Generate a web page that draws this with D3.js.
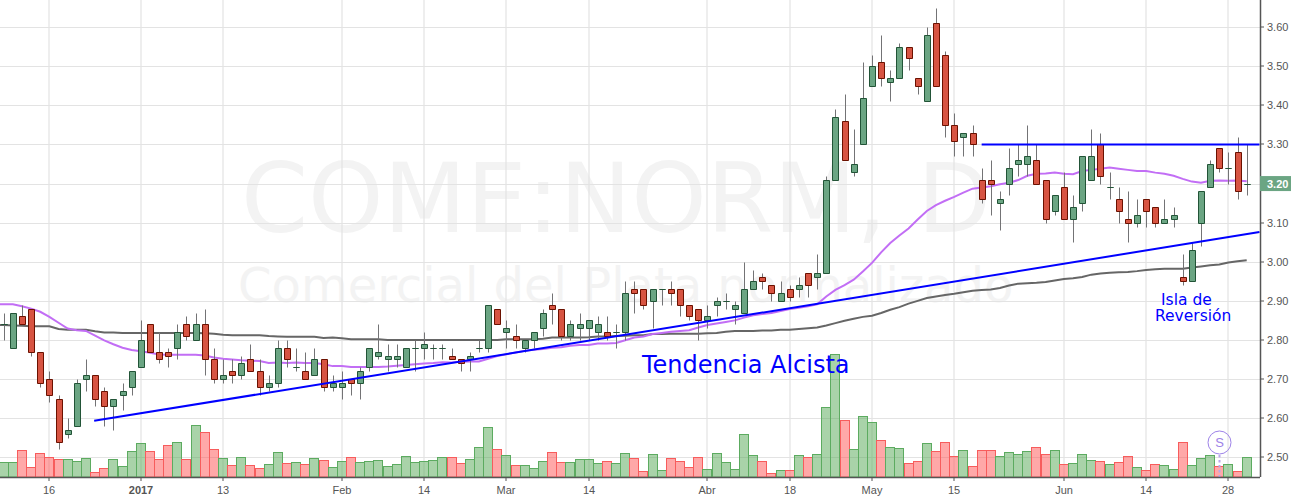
<!DOCTYPE html>
<html><head><meta charset="utf-8">
<script src="https://cdn.jsdelivr.net/npm/d3@7/dist/d3.min.js"></script>
<style>html,body{margin:0;padding:0;background:#fff;overflow:hidden}svg{display:block}</style>
</head><body><svg id="c" width="1291" height="497"></svg>
<script>
const open=[2.84,2.78,2.86,2.88,2.77,2.70,2.65,2.56,2.58,2.70,2.71,2.67,2.63,2.66,2.68,2.73,2.84,2.77,2.77,2.78,2.84,2.80,2.84,2.75,2.70,2.72,2.71,2.75,2.72,2.68,2.69,2.78,2.73,2.72,2.71,2.75,2.68,2.68,2.70,2.69,2.73,2.76,2.75,2.75,2.73,2.78,2.78,2.78,2.78,2.76,2.75,2.75,2.78,2.78,2.88,2.82,2.81,2.78,2.80,2.83,2.89,2.88,2.81,2.83,2.83,2.82,2.82,2.82,2.82,2.93,2.93,2.90,2.93,2.93,2.93,2.89,2.88,2.85,2.89,2.90,2.88,2.87,2.93,2.96,2.94,2.90,2.93,2.93,2.97,2.96,2.97,3.21,3.36,3.23,3.30,3.45,3.51,3.46,3.47,3.55,3.47,3.41,3.61,3.53,3.35,3.32,3.33,3.21,3.21,3.15,3.20,3.25,3.25,3.26,3.21,3.13,3.19,3.11,3.15,3.21,3.30,3.19,3.16,3.11,3.10,3.16,3.14,3.10,3.11,2.96,2.95,3.10,3.19,3.29,3.24,3.28,3.20];
const high=[2.87,2.87,2.89,2.88,2.77,2.72,2.66,2.60,2.70,2.75,2.71,2.68,2.65,2.69,2.72,2.85,2.84,2.82,2.78,2.84,2.86,2.87,2.88,2.78,2.75,2.75,2.76,2.79,2.75,2.71,2.80,2.80,2.78,2.77,2.78,2.75,2.71,2.72,2.70,2.73,2.78,2.84,2.79,2.79,2.78,2.80,2.82,2.79,2.79,2.78,2.75,2.77,2.80,2.89,2.88,2.85,2.84,2.80,2.82,2.88,2.92,2.88,2.85,2.87,2.85,2.86,2.86,2.84,2.95,2.95,2.93,2.93,2.93,2.95,2.93,2.89,2.88,2.89,2.91,2.92,2.90,3.00,2.98,2.97,2.94,2.95,2.94,2.96,2.97,3.02,3.22,3.39,3.43,3.34,3.51,3.53,3.58,3.49,3.56,3.55,3.47,3.60,3.65,3.54,3.38,3.33,3.35,3.24,3.26,3.18,3.29,3.30,3.35,3.30,3.21,3.17,3.23,3.17,3.27,3.34,3.33,3.23,3.19,3.18,3.16,3.16,3.14,3.16,3.14,3.02,3.05,3.18,3.26,3.29,3.28,3.32,3.30];
const low=[2.80,2.78,2.84,2.76,2.68,2.64,2.52,2.55,2.58,2.67,2.63,2.58,2.57,2.62,2.66,2.73,2.77,2.74,2.73,2.75,2.80,2.80,2.71,2.69,2.69,2.69,2.70,2.72,2.66,2.67,2.68,2.73,2.72,2.70,2.71,2.67,2.67,2.65,2.66,2.65,2.72,2.75,2.72,2.73,2.73,2.72,2.75,2.75,2.75,2.75,2.72,2.72,2.77,2.77,2.84,2.78,2.78,2.77,2.78,2.81,2.84,2.80,2.80,2.80,2.80,2.80,2.80,2.78,2.80,2.87,2.88,2.83,2.89,2.89,2.86,2.85,2.80,2.83,2.86,2.88,2.84,2.87,2.93,2.93,2.90,2.90,2.90,2.91,2.91,2.93,2.97,3.21,3.26,3.22,3.30,3.45,3.45,3.41,3.47,3.49,3.43,3.41,3.45,3.32,3.27,3.27,3.27,3.15,3.12,3.08,3.17,3.22,3.22,3.20,3.10,3.12,3.11,3.05,3.13,3.21,3.20,3.16,3.10,3.05,3.09,3.09,3.09,3.10,3.09,2.94,2.95,3.04,3.19,3.23,3.20,3.16,3.17];
const close=[2.84,2.87,2.84,2.77,2.69,2.66,2.54,2.57,2.69,2.71,2.65,2.63,2.65,2.67,2.72,2.80,2.77,2.75,2.76,2.82,2.81,2.84,2.75,2.70,2.71,2.71,2.74,2.72,2.68,2.69,2.78,2.75,2.73,2.70,2.75,2.68,2.69,2.69,2.69,2.72,2.78,2.77,2.76,2.76,2.78,2.78,2.79,2.78,2.78,2.75,2.74,2.76,2.78,2.89,2.84,2.83,2.80,2.80,2.82,2.87,2.88,2.81,2.84,2.84,2.85,2.84,2.81,2.82,2.92,2.92,2.89,2.93,2.93,2.92,2.89,2.86,2.85,2.86,2.90,2.90,2.89,2.93,2.95,2.95,2.92,2.92,2.91,2.94,2.94,2.97,3.21,3.37,3.26,3.25,3.42,3.50,3.47,3.47,3.55,3.52,3.45,3.58,3.45,3.35,3.31,3.33,3.30,3.16,3.20,3.16,3.24,3.26,3.27,3.20,3.11,3.17,3.11,3.14,3.27,3.27,3.22,3.19,3.13,3.10,3.12,3.13,3.10,3.11,3.12,2.95,3.03,3.18,3.25,3.24,3.24,3.18,3.20];
const volume=[45,45,81,30,72,60,54,54,48,57,15,27,54,33,78,102,78,54,96,105,54,156,135,84,57,36,60,36,27,39,75,42,45,39,57,51,30,48,60,45,48,51,33,39,63,45,48,51,60,60,42,54,90,150,84,66,36,36,27,48,75,45,45,54,54,42,48,42,72,57,18,69,21,57,48,30,60,24,72,45,24,129,66,48,12,21,21,66,60,69,210,369,172,84,182,165,111,90,87,42,48,102,78,105,63,81,33,81,81,63,75,69,78,90,69,81,39,42,69,51,48,39,45,63,30,21,39,36,24,105,36,57,66,33,39,18,60];
// moving averages: first value belongs to the bar just before the window
const maFast=[2.891,2.891,2.891,2.886,2.880,2.872,2.859,2.844,2.829,2.825,2.823,2.811,2.799,2.789,2.780,2.774,2.771,2.767,2.763,2.762,2.762,2.762,2.762,2.760,2.755,2.752,2.750,2.748,2.747,2.746,2.741,2.742,2.741,2.742,2.741,2.741,2.738,2.733,2.733,2.731,2.731,2.731,2.731,2.732,2.734,2.736,2.738,2.740,2.741,2.743,2.742,2.744,2.745,2.745,2.752,2.759,2.763,2.768,2.772,2.775,2.777,2.780,2.781,2.785,2.787,2.787,2.791,2.791,2.792,2.799,2.806,2.809,2.815,2.818,2.821,2.823,2.825,2.832,2.838,2.842,2.846,2.850,2.857,2.863,2.866,2.869,2.874,2.879,2.882,2.886,2.891,2.911,2.928,2.940,2.954,2.975,2.997,3.024,3.048,3.067,3.085,3.108,3.130,3.145,3.156,3.166,3.177,3.187,3.190,3.193,3.198,3.202,3.209,3.220,3.225,3.226,3.228,3.225,3.224,3.232,3.235,3.238,3.241,3.238,3.235,3.232,3.232,3.228,3.225,3.220,3.212,3.205,3.202,3.207,3.208,3.207,3.208,3.206];
const maSlow=[2.838,2.838,2.837,2.836,2.835,2.835,2.835,2.828,2.826,2.826,2.826,2.822,2.819,2.819,2.818,2.818,2.818,2.818,2.818,2.818,2.818,2.818,2.818,2.817,2.816,2.813,2.812,2.812,2.812,2.812,2.810,2.809,2.808,2.808,2.808,2.808,2.805,2.806,2.804,2.802,2.802,2.802,2.802,2.800,2.800,2.800,2.800,2.800,2.800,2.800,2.800,2.800,2.800,2.800,2.800,2.800,2.802,2.802,2.802,2.802,2.803,2.806,2.806,2.806,2.806,2.807,2.809,2.809,2.810,2.811,2.812,2.812,2.815,2.815,2.816,2.816,2.816,2.816,2.817,2.818,2.821,2.823,2.823,2.823,2.824,2.824,2.826,2.826,2.828,2.830,2.832,2.837,2.843,2.849,2.854,2.859,2.862,2.869,2.877,2.884,2.893,2.900,2.907,2.911,2.915,2.918,2.922,2.926,2.928,2.929,2.933,2.939,2.944,2.945,2.946,2.948,2.952,2.956,2.958,2.961,2.967,2.970,2.972,2.973,2.974,2.976,2.979,2.981,2.982,2.982,2.982,2.985,2.988,2.991,2.993,2.998,3.001,3.004];
const priceTicks=[3.6,3.5,3.4,3.3,3.2,3.1,3.0,2.9,2.8,2.7,2.6,2.5];
const timeTickIdx=[5,15,24,37,46,55,64,77,86,95,104,116,125,134];
const timeTickLabels=["16","2017","13","Feb","14","Mar","14","Abr","18","May","15","Jun","14","28"];
const lastPrice=3.20;
const trendUp=[[9.9,2.593],[137.4,3.076]];
const resistance=[[107,3.30],[137.4,3.30]];
const markerIdx=133;

const W=1260,H=477;
const x=d3.scaleLinear().domain([0,136]).range([3.7,1246.7]);
const y=d3.scaleLinear().domain([3.6,2.5]).range([27.2,457.2]);
const v=d3.scaleLinear().domain([0,369]).range([477,354]);
const cx=i=>Math.round(x(i))+0.5, cy=p=>Math.round(y(p))+0.5;
const svg=d3.select("#c");
const font="'Liberation Sans',Arial,sans-serif", dj="'DejaVu Sans',Verdana,sans-serif";

// watermark
const wm=svg.append("g").attr("font-family",dj).attr("fill","#f3f3f3");
wm.append("text").attr("x",241).attr("y",232).attr("font-size",96).text("COME:NORM, D");
wm.append("text").attr("x",238).attr("y",302).attr("font-size",48).text("Comercial del Plata normalizado");

// grid
const grid=svg.append("g").attr("stroke","#e3e3e3").attr("stroke-width",1.2);
grid.selectAll(".h").data(priceTicks).join("line").attr("x1",0).attr("x2",W).attr("y1",cy).attr("y2",cy);
grid.selectAll(".v").data(timeTickIdx).join("line").attr("x1",d=>cx(d)-0.5).attr("x2",d=>cx(d)-0.5).attr("y1",0).attr("y2",H);

// volume
const idx=d3.range(open.length), up=i=>close[i]>=open[i];
svg.append("g").selectAll("rect").data(idx).join("rect")
  .attr("x",i=>cx(i)-5).attr("width",9)
  .attr("y",i=>Math.round(v(volume[i]))+0.5).attr("height",i=>H-Math.round(v(volume[i]))-0.5)
  .attr("fill",i=>up(i)?"rgba(83,168,84,.5)":"rgba(255,82,82,.5)")
  .attr("stroke",i=>up(i)?"#5cab60":"#f75c5c").attr("stroke-width",1);

// moving averages
const line=d3.line().x((d,k)=>x(k-1)).y(d=>y(d));
svg.append("path").attr("d",line(maSlow)).attr("fill","none").attr("stroke","#666").attr("stroke-width",2);
svg.append("path").attr("d",line(maFast)).attr("fill","none").attr("stroke","#c26ef5").attr("stroke-width",2);

// candles
const cg=svg.append("g");
cg.selectAll("line").data(idx).join("line").attr("x1",cx).attr("x2",cx)
  .attr("y1",i=>cy(high[i])).attr("y2",i=>cy(low[i])).attr("stroke","#737375").attr("stroke-width",1);
cg.selectAll("path").data(idx).join("path")
  .attr("d",i=>{const t=cy(Math.max(open[i],close[i])),b=cy(Math.min(open[i],close[i])),c=cx(i);
    return `M${c-3},${t}H${c+3}V${b}H${c-3}Z`;})
  .attr("fill",i=>up(i)?"#6ba583":"#d75442")
  .attr("stroke",i=>up(i)?"#225437":"#6b1100").attr("stroke-width",1);

// drawn lines
const tl=d3.line().x(d=>x(d[0])).y(d=>y(d[1]));
svg.append("path").attr("d",tl(trendUp)).attr("stroke","#0000ff").attr("stroke-width",2).attr("fill","none");
svg.append("path").attr("d",tl(resistance)).attr("stroke","#0000ff").attr("stroke-width",2).attr("fill","none");

// annotations
const ann=svg.append("g").attr("font-family",dj).attr("fill","#0000ff");
ann.append("text").attr("x",642).attr("y",373).attr("font-size",24).text("Tendencia Alcista");
ann.append("text").attr("x",1161).attr("y",305).attr("font-size",15.5).text("Isla de");
ann.append("text").attr("x",1155).attr("y",321).attr("font-size",15.5).text("Reversión");

// S marker
const mk=svg.append("g");
mk.append("line").attr("x1",cx(markerIdx)).attr("x2",cx(markerIdx)).attr("y1",455).attr("y2",H)
  .attr("stroke","#b9a6ec").attr("stroke-width",2).attr("stroke-dasharray","2.5,2.5");
mk.append("circle").attr("cx",cx(markerIdx)).attr("cy",442.5).attr("r",11.5).attr("fill","none").attr("stroke","#9d82e8").attr("stroke-width",1);
mk.append("text").attr("x",cx(markerIdx)).attr("y",447).attr("text-anchor","middle").attr("font-family",font).attr("font-size",13).attr("fill","#9d82e8").text("S");

// axes
const style=g=>{g.attr("font-family",font).attr("font-size",11);
  g.selectAll(".domain").attr("stroke","#555").attr("stroke-width",1.5);
  g.selectAll(".tick line").attr("stroke","#555");
  g.selectAll(".tick text").attr("fill","#555");};
const ax=svg.append("g").attr("transform",`translate(0,${H})`)
  .call(d3.axisBottom(x).tickValues(timeTickIdx).tickFormat((d,k)=>timeTickLabels[k]).tickSize(4).tickPadding(5));
ax.select(".domain").attr("d",`M0,0.5H${W}`);
style(ax);
ax.selectAll(".tick").attr("transform",d=>`translate(${cx(d)-0.5},0)`);
ax.selectAll(".tick text").attr("font-weight",(d,k)=>timeTickLabels[k]==="2017"?"bold":null);
const ay=svg.append("g").attr("transform",`translate(${W},0)`)
  .call(d3.axisRight(y).tickValues(priceTicks).tickFormat(d3.format(".2f")).tickSize(4).tickPadding(3));
ay.select(".domain").attr("d",`M0.5,0V${H}`);
style(ay);
ay.selectAll(".tick").attr("transform",d=>`translate(0,${cy(d)-0.5})`);

// last price label
svg.append("rect").attr("x",W).attr("y",y(lastPrice)-7.5).attr("width",31).attr("height",15).attr("fill","#6ba583");
svg.append("text").attr("x",W+7).attr("y",y(lastPrice)+4).attr("font-family",font).attr("font-size",11).attr("font-weight","bold").attr("fill","#fff").text(lastPrice.toFixed(2));
</script></body></html>
